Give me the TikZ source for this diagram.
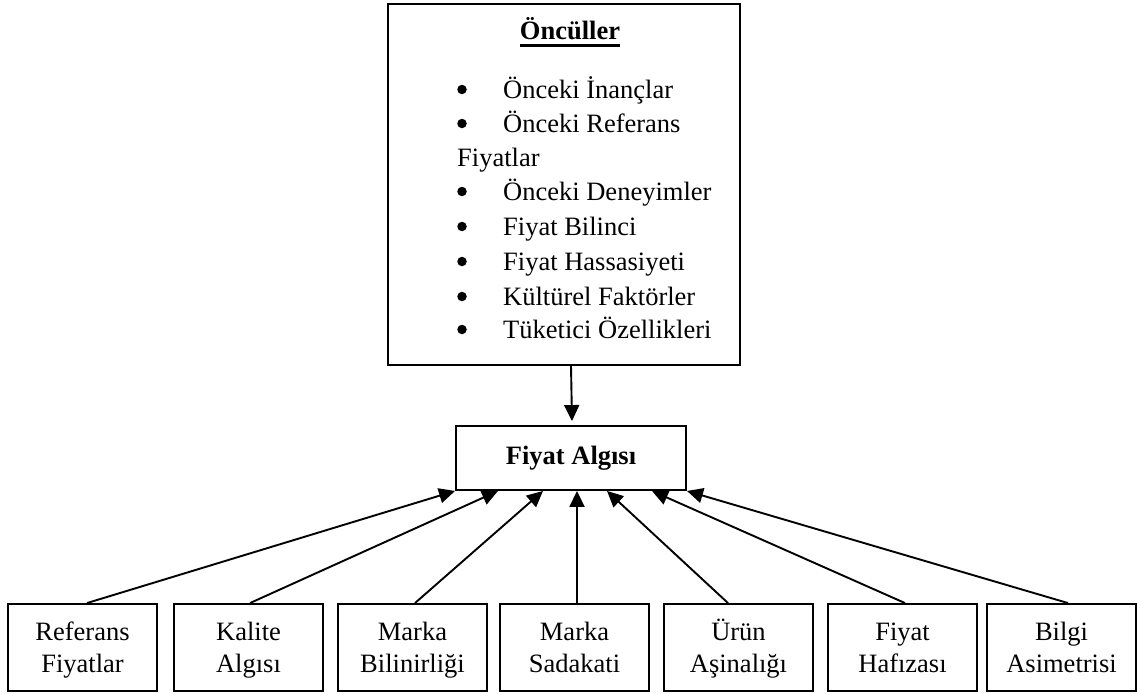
\documentclass[tikz,border=0pt]{standalone}
\usepackage{fontspec}
\setmainfont{Liberation Serif}
\usetikzlibrary{arrows.meta}
\begin{document}
\begin{tikzpicture}[x=1pt,y=-1pt,
  txt/.style={font=\fontsize{26.5}{32}\selectfont},
  box/.style={draw,line width=1.9pt,rectangle,inner sep=0pt},
  leaf/.style={box,txt,minimum width=149pt,minimum height=87pt,align=center},
  item/.style={txt,anchor=base west,inner sep=0pt},
  dot/.style={circle,fill,inner sep=0pt,minimum size=9.5pt},
  link/.style={line width=1.9pt,-{Triangle[length=16pt,width=15pt]}}]
\useasboundingbox (0,0) rectangle (1137,693);
\fill[white] (0,0) rectangle (1137,693);

% antecedents box with its list
\node[box,minimum width=352pt,minimum height=361pt] (top) at (564,184.5) {};
\node[txt,anchor=base,inner sep=0pt] (head) at (570,40) {\textbf{Öncüller}};
\draw[line width=2.4pt] ([yshift=-5.5pt]head.base west) -- ([yshift=-5.5pt]head.base east);
\foreach \y/\t [count=\i] in {98/Önceki İnançlar,132/Önceki Referans,200/Önceki Deneyimler,235/Fiyat Bilinci,270/Fiyat Hassasiyeti,305/Kültürel Faktörler,338/Tüketici Özellikleri}{
  \node[dot] (d\i) at (462,\y-8.5) {};
  \node[item] (t\i) at (503,\y) {\t};
}
\node[item] (t2b) at (457,166) {Fiyatlar};

% central concept
\node[box,txt,minimum width=230pt,minimum height=64pt] (fa) at (571,458) {\textbf{Fiyat Algısı}};

% factor boxes
\foreach \x/\a/\b [count=\i] in {82.5/Referans/Fiyatlar,248.5/Kalite/Algısı,412.5/Marka/Bilinirliği,574.5/Marka/Sadakati,738.5/Ürün/Aşinalığı,902.5/Fiyat/Hafızası,1061.5/Bilgi/Asimetrisi}{
  \node[leaf] (b\i) at (\x,647.5) {};
  \node[txt,anchor=base,inner sep=0pt] (u\i) at (\x,640) {\a};
  \node[txt,anchor=base,inner sep=0pt] (l\i) at (\x,672) {\b};
}

% connectors
\draw[link] ([xshift=7pt]top.south) -- ([xshift=1pt,yshift=4pt]fa.north);
\draw[link] ([xshift=4.5pt]b1.north) -- (fa.south west);
\draw[link] ([xshift=1.5pt]b2.north) -- ([xshift=-73pt]fa.south);
\draw[link] ([xshift=2.5pt]b3.north) -- ([xshift=-28pt]fa.south);
\draw[link] ([xshift=2.5pt]b4.north) -- ([xshift=6pt]fa.south);
\draw[link] ([xshift=-10.5pt]b5.north) -- ([xshift=36pt]fa.south);
\draw[link] ([xshift=2.5pt]b6.north) -- ([xshift=81pt]fa.south);
\draw[link] ([xshift=6.5pt]b7.north) -- (fa.south east);
\end{tikzpicture}
\end{document}
